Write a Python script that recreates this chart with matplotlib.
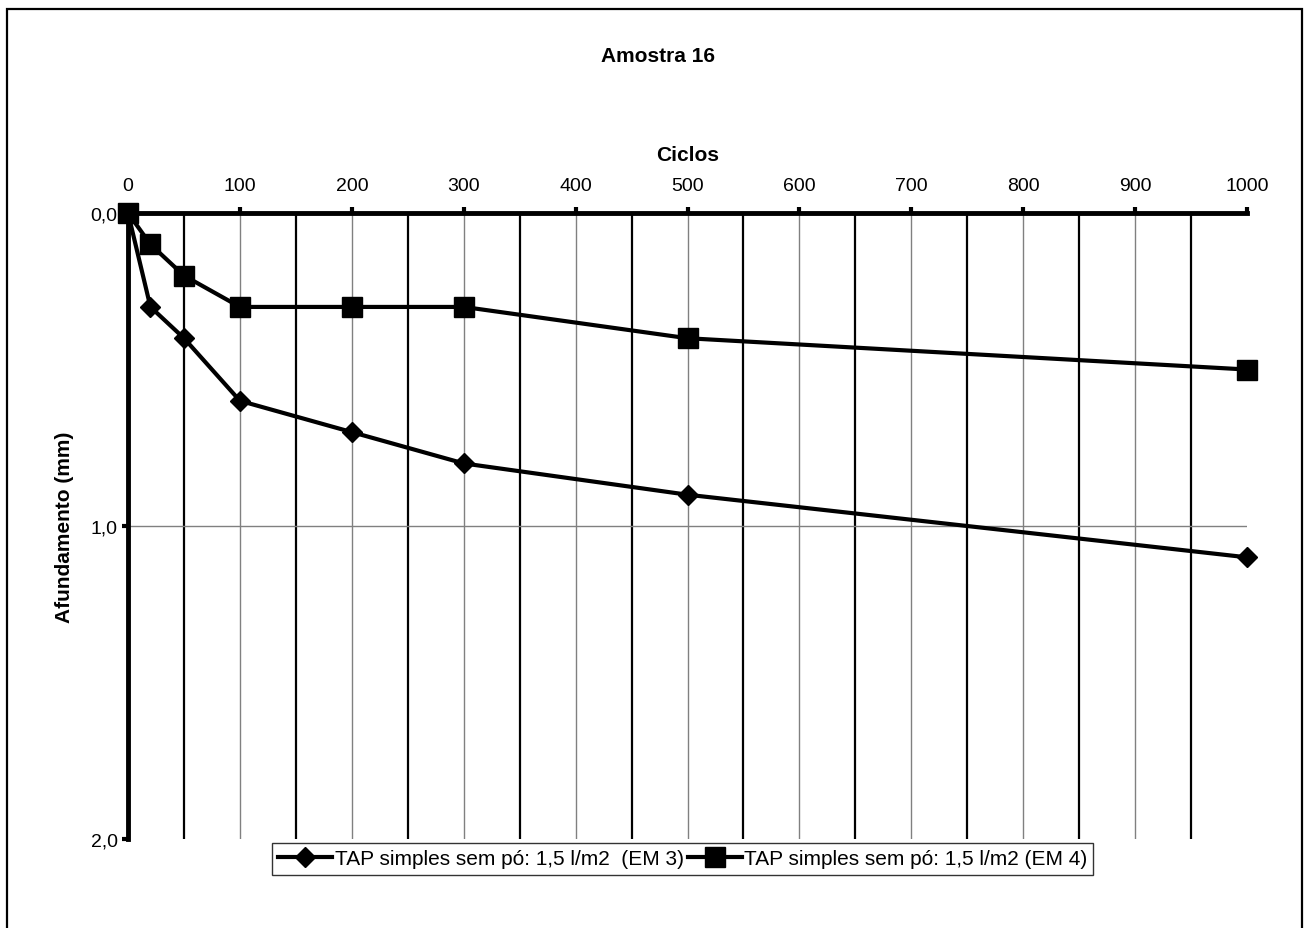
import matplotlib.pyplot as plt
from matplotlib.patches import Rectangle
from matplotlib.ticker import FuncFormatter

plt.rcParams['font.family'] = ['Liberation Sans', 'DejaVu Sans']

# data
ciclos = [0, 20, 50, 100, 200, 300, 500, 1000]
em3 = [0.0, 0.30, 0.40, 0.60, 0.70, 0.80, 0.90, 1.10]
em4 = [0.0, 0.10, 0.20, 0.30, 0.30, 0.30, 0.40, 0.50]
label_em3 = 'TAP simples sem pó: 1,5 l/m2  (EM 3)'
label_em4 = 'TAP simples sem pó: 1,5 l/m2 (EM 4)'
x_ticks = [0, 100, 200, 300, 400, 500, 600, 700, 800, 900, 1000]
y_ticks = [0.0, 1.0, 2.0]

fig = plt.figure(figsize=(13.08, 9.29), dpi=100)
# outer chart border (bottom edge runs off the image)
fig.patches.append(Rectangle((7 / 1308, -0.01), 1295 / 1308, 1 - 10 / 929 + 0.01,
                             transform=fig.transFigure, fill=False,
                             edgecolor='black', linewidth=1.6))
ax = fig.add_axes([0.0979, 0.0958, 0.8555, 0.6738])

# vertical grid: thick at odd multiples of 50, thin grey at hundreds
for x in range(50, 1000, 50):
    if x % 100 == 50:
        ax.axvline(x, color='black', linewidth=1.6, zorder=1)
    else:
        ax.axvline(x, color='#808080', linewidth=1.0, zorder=1)
ax.axhline(1.0, color='#808080', linewidth=1.0, zorder=1)

ax.plot(ciclos, em3, color='black', linewidth=3, marker='D', markersize=10,
        label=label_em3, zorder=3, clip_on=False)
ax.plot(ciclos, em4, color='black', linewidth=3, marker='s', markersize=14,
        label=label_em4, zorder=3, clip_on=False)

ax.set_xlim(0, 1000)
ax.set_ylim(2.0, 0.0)
ax.xaxis.tick_top()
ax.xaxis.set_label_position('top')
ax.set_xticks(x_ticks)
ax.set_yticks(y_ticks)
ax.yaxis.set_major_formatter(FuncFormatter(lambda v, p: f'{v:.1f}'.replace('.', ',')))
ax.tick_params(axis='both', labelsize=14, width=3, length=4, direction='out')
ax.tick_params(axis='x', pad=10)

for side in ['right', 'bottom']:
    ax.spines[side].set_visible(False)
for side in ['left', 'top']:
    ax.spines[side].set_linewidth(3.5)

ax.set_xlabel('Ciclos', fontsize=15, fontweight='bold', labelpad=12)
ax.set_ylabel('Afundamento (mm)', fontsize=15, fontweight='bold', labelpad=12)
fig.text(0.503, 1 - 57 / 929, 'Amostra 16', fontsize=15, fontweight='bold',
         ha='center', va='center')

leg = fig.legend(loc='center', bbox_to_anchor=(0.522, 1 - 860 / 929), ncol=2,
                 fontsize=15, frameon=True, fancybox=False, handlelength=2.6,
                 handletextpad=0.1, columnspacing=0.2, borderpad=0.3)
leg.get_frame().set_edgecolor('black')
leg.get_frame().set_linewidth(1.0)

fig.savefig('out.png', dpi=100)
